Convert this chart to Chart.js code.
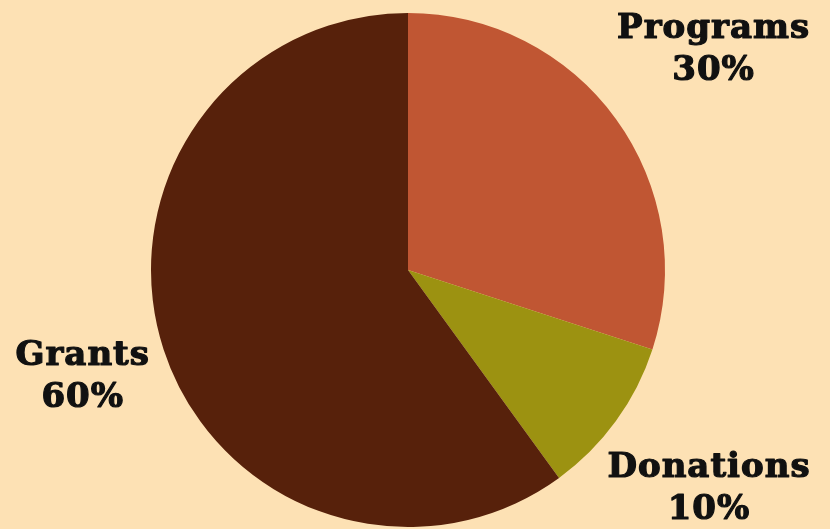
<!DOCTYPE html>
<html lang="en">
<head>
<meta charset="UTF-8" />
<title>Funding Sources</title>
<script src="https://cdn.jsdelivr.net/npm/chart.js@4.4.1/dist/chart.umd.min.js"></script>
<style>
    html, body { margin: 0; padding: 0; background: #fde1b4; }
    #wrap { width: 830px; height: 529px; position: relative; }
</style>
</head>
<body>
<div id="wrap"><canvas id="pie"></canvas></div>
<script>
    // data
    const categories = ['Programs', 'Donations', 'Grants'];
    const shares = [30, 10, 60];
    const colors = ['#c05633', '#9c9211', '#57210b'];

    // distance of each label from the centre, as a multiple of the radius
    const labelDist = [1.465, 1.443, 1.335];

    const sliceLabels = {
        id: 'sliceLabels',
        afterDatasetsDraw(chart) {
            const ctx = chart.ctx;
            const arcs = chart.getDatasetMeta(0).data;
            ctx.save();
            ctx.fillStyle = '#111';
            ctx.strokeStyle = '#111';
            ctx.lineWidth = 1.2;
            ctx.lineJoin = 'round';
            ctx.font = 'bold 34px "DejaVu Serif", serif';
            ctx.letterSpacing = '1px';
            ctx.textAlign = 'center';
            ctx.textBaseline = 'middle';
            arcs.forEach((arc, i) => {
                const mid = (arc.startAngle + arc.endAngle) / 2;
                const d = arc.outerRadius * labelDist[i];
                const x = arc.x + Math.cos(mid) * d + 1;
                const y = arc.y + Math.sin(mid) * d + 1;
                [categories[i], shares[i] + '%'].forEach((t, k) => {
                    const ty = y + (k === 0 ? -21 : 21);
                    ctx.fillText(t, x, ty);
                    ctx.strokeText(t, x, ty);
                });
            });
            ctx.restore();
        }
    };

    new Chart(document.getElementById('pie'), {
        type: 'pie',
        data: {
            labels: categories,
            datasets: [{
                data: shares,
                backgroundColor: colors,
                borderWidth: 0
            }]
        },
        options: {
            responsive: true,
            maintainAspectRatio: false,
            animation: false,
            layout: { padding: { left: 151, right: 165, top: 13, bottom: 2 } },
            plugins: {
                legend: { display: false },
                tooltip: { enabled: false }
            }
        },
        plugins: [sliceLabels]
    });
</script>
</body>
</html>
